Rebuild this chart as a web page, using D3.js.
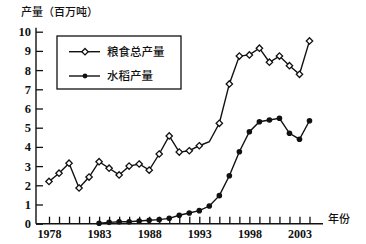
<!DOCTYPE html>
<html>
<head>
<meta charset="utf-8">
<script src="https://cdn.jsdelivr.net/npm/d3@7"></script>
<style>
  body { margin: 0; background: #fff; }
  text { fill: #111; }
  .num { font-family: "Liberation Serif", serif; font-weight: bold; }
  .cjk { font-family: "Noto Sans CJK SC", sans-serif; font-weight: 500; }
</style>
</head>
<body>
<svg id="chart" width="366" height="244"></svg>
<script>
// years and values (millions of tonnes)
var grainYears = d3.range(1978, 2005);
var grainValues = [2.2, 2.63, 3.15, 1.86, 2.43, 3.23, 2.89, 2.54, 3.0, 3.11, 2.79,
  3.63, 4.57, 3.73, 3.8, 4.06, 4.27, 5.23, 7.28, 8.73, 8.79, 9.14, 8.41, 8.73,
  8.23, 7.78, 9.52];
var riceYears = d3.range(1983, 2005);
var riceValues = [0.02, 0.07, 0.1, 0.1, 0.14, 0.18, 0.21, 0.28, 0.44, 0.56, 0.68,
  0.92, 1.46, 2.5, 3.75, 4.79, 5.31, 5.4, 5.49, 4.71, 4.4, 5.36];
var yearLabels = [1978, 1983, 1988, 1993, 1998, 2003];
var yTicks = d3.range(0, 11);
var noMarkYears = [1994]; // the bend with no marker in the original
var seriesNames = ["粮食总产量", "水稻产量"];

var grain = grainYears.map(function (yr, i) { return { year: yr, value: grainValues[i] }; });
var rice = riceYears.map(function (yr, i) { return { year: yr, value: riceValues[i] }; });

var svg = d3.select("#chart");

var x = d3.scaleLinear().domain([1978, 2004]).range([49, 309.5]);
var y = d3.scaleLinear().domain([0, 10]).range([223.7, 31.7]);

// y axis, ticks pointing inward
var yAxisG = svg.append("g")
  .attr("transform", "translate(36,0)")
  .call(d3.axisLeft(y).tickValues(yTicks).tickSize(-7).tickPadding(5));
yAxisG.select(".domain").remove();
yAxisG.append("line")
  .attr("y1", y(0)).attr("y2", y(10) - 4)
  .attr("stroke", "#111").attr("stroke-width", 1.4);
yAxisG.selectAll(".tick line").attr("stroke", "#111").attr("stroke-width", 1.3);
yAxisG.selectAll(".tick text").attr("class", "num").style("font-size", "12.5px");

// x axis, ticks every year, labels every five
var xAxisG = svg.append("g")
  .attr("transform", "translate(0," + y(0) + ")")
  .call(d3.axisBottom(x)
    .tickValues(grainYears)
    .tickSize(-7)
    .tickPadding(6)
    .tickFormat(function (d) { return yearLabels.indexOf(d) >= 0 ? d : ""; }));
xAxisG.select(".domain").remove();
xAxisG.append("line")
  .attr("x1", 36).attr("x2", 323)
  .attr("stroke", "#111").attr("stroke-width", 1.4);
xAxisG.selectAll(".tick line").attr("stroke", "#111").attr("stroke-width", 1.3);
xAxisG.selectAll(".tick text").attr("class", "num").style("font-size", "12px");

svg.append("text").attr("class", "cjk")
  .attr("x", 21).attr("y", 16)
  .style("font-size", "11px")
  .text("产量（百万吨）");

svg.append("text").attr("class", "cjk")
  .attr("x", 328).attr("y", 223)
  .style("font-size", "11px")
  .text("年份");

var line = d3.line()
  .x(function (d) { return x(d.year); })
  .y(function (d) { return y(d.value); });

svg.append("path").datum(grain)
  .attr("d", line)
  .attr("fill", "none").attr("stroke", "#111").attr("stroke-width", 1.4);

svg.append("path").datum(rice)
  .attr("d", line)
  .attr("fill", "none").attr("stroke", "#111").attr("stroke-width", 1.4);

var diamond = d3.symbol().type(d3.symbolDiamond2).size(26);

svg.append("g").selectAll("path")
  .data(grain.filter(function (d) { return noMarkYears.indexOf(d.year) < 0; }))
  .join("path")
  .attr("d", diamond)
  .attr("transform", function (d) { return "translate(" + x(d.year) + "," + y(d.value) + ")"; })
  .attr("fill", "#fff").attr("stroke", "#111").attr("stroke-width", 1.3);

svg.append("g").selectAll("circle")
  .data(rice)
  .join("circle")
  .attr("cx", function (d) { return x(d.year); })
  .attr("cy", function (d) { return y(d.value); })
  .attr("r", 2.8)
  .attr("fill", "#111");

// legend
var legend = svg.append("g");
legend.append("rect")
  .attr("x", 57).attr("y", 36).attr("width", 124).attr("height", 53)
  .attr("fill", "#fff").attr("stroke", "#111").attr("stroke-width", 1.3);

var rows = legend.selectAll("g.row")
  .data(seriesNames)
  .join("g")
  .attr("class", "row")
  .attr("transform", function (d, i) { return "translate(0," + (51.7 + i * 24.3) + ")"; });

rows.append("line")
  .attr("x1", 69).attr("x2", 100)
  .attr("stroke", "#111").attr("stroke-width", 1.4);

rows.filter(function (d, i) { return i === 0; }).append("path")
  .attr("d", diamond)
  .attr("transform", "translate(85,0)")
  .attr("fill", "#fff").attr("stroke", "#111").attr("stroke-width", 1.3);

rows.filter(function (d, i) { return i === 1; }).append("circle")
  .attr("cx", 85).attr("r", 2.4).attr("fill", "#111");

rows.append("text").attr("class", "cjk")
  .attr("x", 107).attr("y", 4)
  .style("font-size", "11.5px")
  .text(function (d) { return d; });
</script>
</body>
</html>
